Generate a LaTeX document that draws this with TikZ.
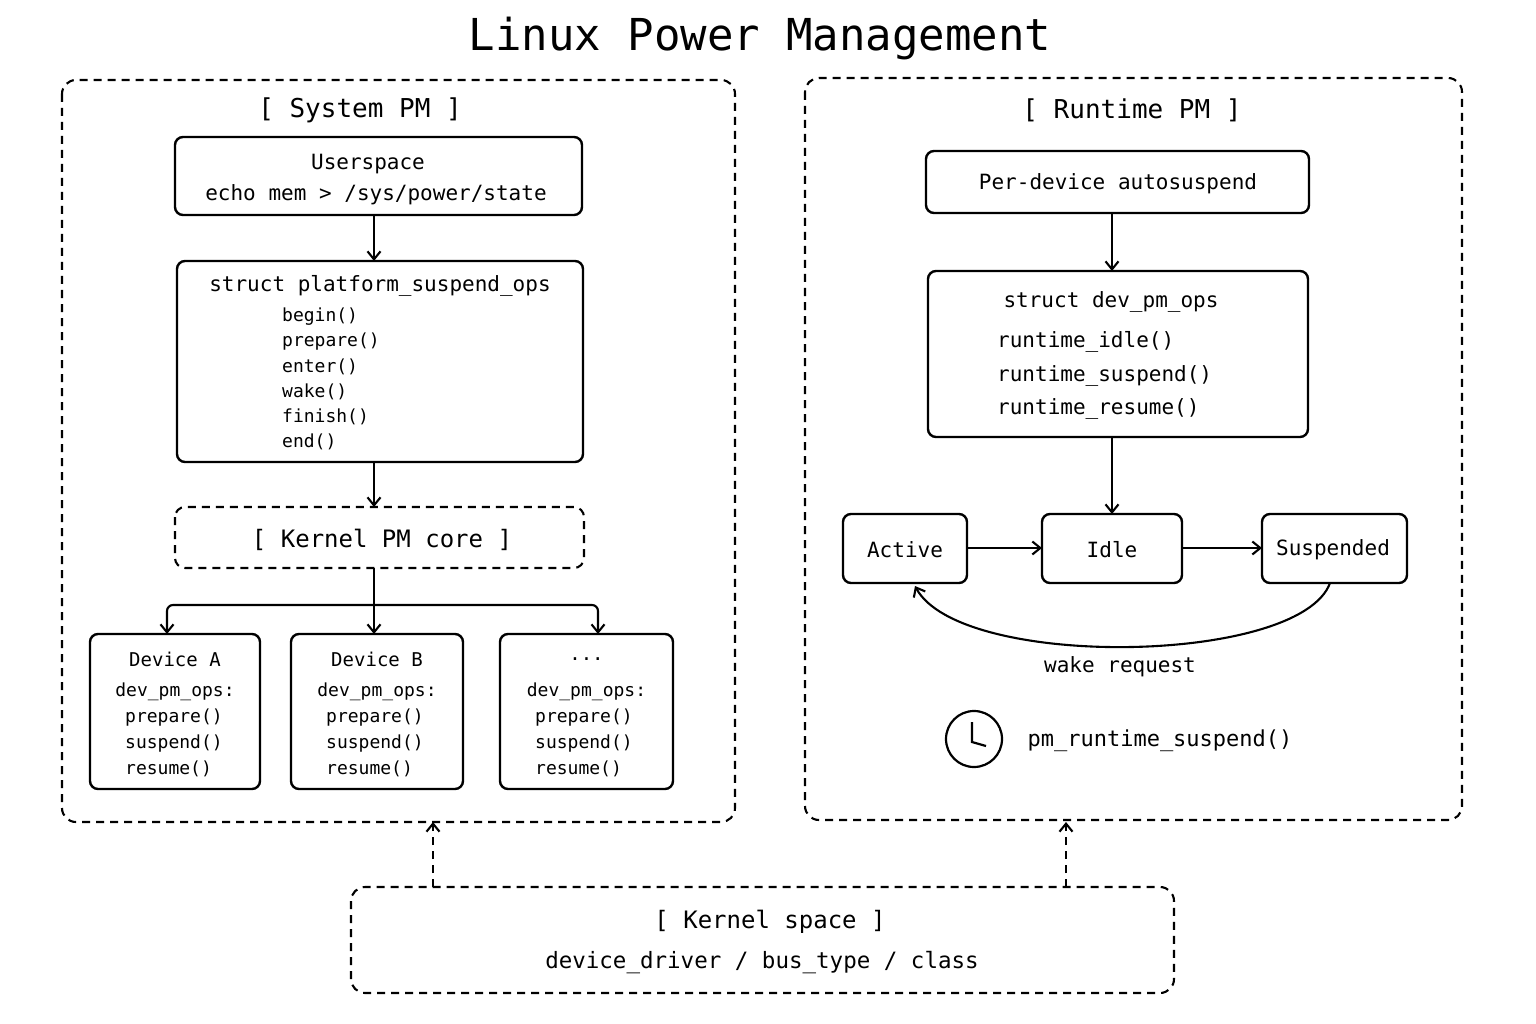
\documentclass[tikz,border=0pt]{standalone}
\usepackage{fontspec}
\setmainfont{DejaVu Sans Mono}
\usetikzlibrary{arrows.meta}
\def\mythreedots{...}
\begin{document}
\begin{tikzpicture}[x=1pt,y=-1pt,
 box/.style={draw,line width=2.4pt,rounded corners=8pt},
 dbox/.style={draw,line width=2.1pt,dash pattern=on 8pt off 6pt,rounded corners=14pt},
 arr/.style={-{Straight Barb[length=8pt,width=13pt]},line width=2.1pt},
 darr/.style={arr,dash pattern=on 8pt off 6pt},
 t/.style={inner sep=0pt,font=\fontsize{21}{24}\selectfont},
 ts/.style={inner sep=0pt,font=\fontsize{18}{21}\selectfont,anchor=west},
 hd/.style={inner sep=0pt,font=\fontsize{26}{30}\selectfont}]
\useasboundingbox (0,0) rectangle (1536,1024);
\node[inner sep=0pt,font=\fontsize{44}{50}\selectfont] (title) at (760,39) {Linux Power Management};
% System PM
\draw[dbox] (62,80) rectangle (735,822);
\node[hd] (sys) at (360,110) {[ System PM ]};
\draw[box] (175,137) rectangle (582,215);
\coordinate (us) at (374,215);
\node[t] at (368,164) {Userspace};
\node[t] at (376,195) {echo mem > /sys/power/state};
\draw[box] (177,261) rectangle (583,462);
\coordinate (pt) at (374,261); \coordinate (pb) at (374,462);
\node[t] at (380,286) {struct platform\_suspend\_ops};
\foreach \s [count=\i] in {begin(),prepare(),enter(),wake(),finish(),end()}
  \node[ts] at (282,292+25*\i) {\s};
\draw[dbox,rounded corners=10pt] (175,507) rectangle (584,568);
\coordinate (kt) at (374,507); \coordinate (kb) at (374,568);
\node[hd,font=\fontsize{24}{28}\selectfont] at (382,540) {[ Kernel PM core ]};
\draw[arr] (us) -- (pt);
\draw[arr] (pb) -- (kt);
\coordinate (br) at (374,605);
\draw[arr] (kb) -- (374,634);
\draw[arr,rounded corners=6pt] (br) -- (167,605) -- (167,634);
\draw[arr,rounded corners=6pt] (br) -- (598,605) -- (598,634);
\foreach \xa/\xb/\ti in {90/260/Device A,291/463/Device B,500/673/\mythreedots}{
  \draw[box] (\xa,634) rectangle (\xb,789);
  \pgfmathsetmacro\xc{(\xa+\xb)/2}
  \node[t,font=\fontsize{19}{22}\selectfont] at (\xc,659) {\ti};
  \node[t,font=\fontsize{18}{22}\selectfont] at (\xc,692) {dev\_pm\_ops:};
  \node[ts] at (\xa+35,718) {prepare()};
  \node[ts] at (\xa+35,744) {suspend()};
  \node[ts] at (\xa+35,769) {resume()};
}
% Runtime PM
\draw[dbox] (805,78) rectangle (1462,820);
\node[hd] (rt) at (1132,110) {[ Runtime PM ]};
\draw[box] (926,151) rectangle (1309,213);
\node[t] at (1118,184) {Per-device autosuspend};
\draw[box] (928,271) rectangle (1308,437);
\node[t] at (1111,302) {struct dev\_pm\_ops};
\node[t,anchor=west] at (997,342) {runtime\_idle()};
\node[t,anchor=west] at (997,376) {runtime\_suspend()};
\node[t,anchor=west] at (997,409) {runtime\_resume()};
\draw[arr] (1112,213) -- (1112,271);
\draw[arr] (1112,437) -- (1112,514);
\draw[box] (843,514) rectangle (967,583);
\node[t] at (905,550) {Active};
\draw[box] (1042,514) rectangle (1182,583);
\node[t] at (1112,550) {Idle};
\draw[box] (1262,514) rectangle (1407,583);
\node[t] at (1333,550) {Suspended};
\draw[arr] (967,548) -- (1042,548);
\draw[arr] (1182,548) -- (1262,548);
\draw[arr] (1330,583) .. controls (1300,665) and (960,670) .. (915,586);
\node[t] at (1120,667) {wake request};
\draw[line width=2.2pt] (974,739) circle (28);
\draw[line width=2.2pt] (972,722) -- (972,742) -- (986,746);
\node[t,font=\fontsize{22}{26}\selectfont] at (1160,741) {pm\_runtime\_suspend()};
% Kernel space
\draw[dbox] (351,887) rectangle (1174,993);
\node[hd,font=\fontsize{24}{28}\selectfont] at (770,922) {[ Kernel space ]};
\node[t,font=\fontsize{22.5}{26}\selectfont] at (762,963) {device\_driver / bus\_type / class};
\draw[darr] (433,887) -- (433,822);
\draw[darr] (1066,887) -- (1066,822);
\end{tikzpicture}
\end{document}
